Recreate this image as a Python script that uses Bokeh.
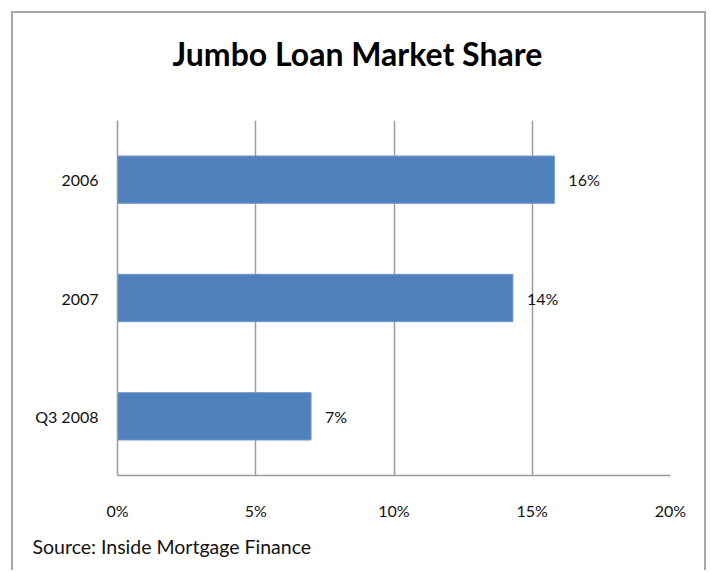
from bokeh.plotting import figure
from bokeh.models import FactorRange, Range1d, FixedTicker, PrintfTickFormatter, Title, ColumnDataSource
from bokeh.core.properties import value
from bokeh.embed import file_html
from bokeh.resources import INLINE

# Data
categories = ["2006", "2007", "Q3 2008"]
shares = [15.8, 14.3, 7.0]
share_labels = ["16%", "14%", "7%"]
x_ticks = [0, 5, 10, 15, 20]
title_text = "Jumbo Loan Market Share"
source_text = "Source: Inside Mortgage Finance"

FONT = "Lato"
GRID = "#9c9c9c"
BORDER = "2px solid #a8a8a8"

p = figure(
    width=695, height=559,
    y_range=FactorRange(factors=list(reversed(categories)), range_padding=0),
    x_range=Range1d(0, 20),
    output_backend="svg", toolbar_location=None,
    min_border_left=104, min_border_right=38, min_border_top=107, min_border_bottom=96,
)
p.title = None
p.outline_line_color = None
p.background_fill_color = "white"
p.border_fill_color = "white"
p.styles = {"margin-left": "11px", "margin-top": "11px",
            "border-left": BORDER, "border-top": BORDER, "border-right": BORDER}

src = ColumnDataSource(dict(cat=categories, val=shares, lab=share_labels))
p.hbar(y="cat", right="val", left=0, height=0.4, source=src,
       fill_color="#4F81BD", line_color="#7097c9", line_width=1)
p.text(x="val", y="cat", text="lab", source=src, x_offset=14,
       text_baseline="middle", text_align="left",
       text_font=value(FONT), text_font_size="16px", text_color="#111111")

# axes
p.xaxis.ticker = FixedTicker(ticks=x_ticks)
p.xaxis.formatter = PrintfTickFormatter(format="%d%%")
for ax in (p.xaxis, p.yaxis):
    ax.major_tick_out = 0
    ax.major_tick_in = 0
    ax.minor_tick_out = 0
    ax.minor_tick_in = 0
    ax.axis_line_color = GRID
    ax.axis_line_width = 1.5
    ax.major_label_text_font = FONT
    ax.major_label_text_font_size = "16px"
    ax.major_label_text_color = "#111111"
p.xaxis.major_label_standoff = 25
p.yaxis.major_label_standoff = 19

p.xgrid.ticker = FixedTicker(ticks=x_ticks)
p.xgrid.grid_line_color = GRID
p.xgrid.grid_line_width = 1.5
p.ygrid.grid_line_color = None

# title (with spacer under it) and source note
spacer = Title(text=" ", text_font_size="30px", standoff=0, text_color="white")
p.add_layout(spacer, "above")
p.add_layout(Title(text=title_text, align="left", offset=55, vertical_align="bottom",
                   standoff=26, text_font=FONT, text_font_style="bold",
                   text_font_size="32px", text_color="#000000"), "above")
p.add_layout(Title(text=source_text, align="left", offset=-85, vertical_align="top",
                   standoff=25, text_font=FONT, text_font_style="normal",
                   text_font_size="19.5px", text_color="#111111"), "below")

open("out.html", "w").write(file_html(p, INLINE))
